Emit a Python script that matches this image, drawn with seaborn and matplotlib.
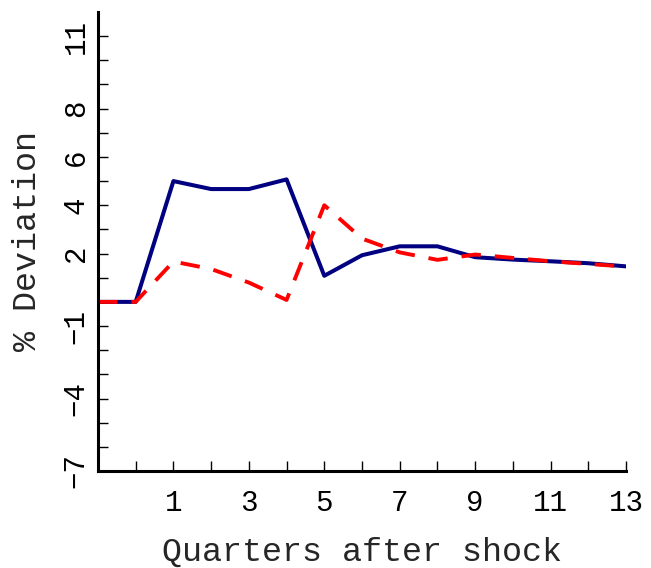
import matplotlib
matplotlib.use("Agg")
import matplotlib.pyplot as plt
import seaborn as sns
import pandas as pd

# Impulse responses (percent deviation from steady state)
quarters = [-1, 0, 1, 2, 3, 4, 5, 6, 7, 8, 9, 10, 11, 12, 13]
series_a = [0.0, 0.0, 5.0, 4.67, 4.67, 5.07, 1.08, 1.93, 2.30, 2.30, 1.85, 1.75, 1.68, 1.60, 1.47]
series_b = [0.0, 0.0, 1.67, 1.36, 0.80, 0.08, 4.00, 2.62, 2.05, 1.74, 1.96, 1.82, 1.68, 1.57, 1.46]

x_ticks = list(range(0, 14))
x_labels = ["1", "3", "5", "7", "9", "11", "13"]
y_ticks = list(range(-7, 12))
y_labels = {-7: "\u22127", -4: "\u22124", -1: "\u22121", 2: "2", 4: "4", 6: "6", 8: "8", 11: "11"}

sns.set_style("white")
plt.rcParams["font.family"] = ["Liberation Mono", "DejaVu Sans Mono"]

fig = plt.figure(figsize=(6.51, 5.68), dpi=100)
ax = fig.add_axes([0.1505, 0.1708, 0.8111, 0.8081])

df = pd.DataFrame({"q": quarters, "a": series_a, "b": series_b})
sns.lineplot(data=df, x="q", y="a", ax=ax, color="#000080", linewidth=2.9)
sns.lineplot(data=df, x="q", y="b", ax=ax, color="#FF0000", linewidth=2.8)
ax.lines[1].set_dashes([5, 3.6])

ax.set_xlim(-1, 13)
ax.set_ylim(-7, 12)

ax.set_xticks(x_ticks)
ax.set_xticklabels([str(t) if str(t) in x_labels else "" for t in x_ticks])
ax.set_yticks(y_ticks)
ax.set_yticklabels([y_labels.get(t, "") for t in y_ticks], rotation=90, va="center")

ax.tick_params(axis="both", which="major", bottom=True, left=True,
               direction="in", length=7, width=1, colors="black",
               labelsize=21, labelcolor="black")
ax.tick_params(axis="x", pad=13)
ax.tick_params(axis="y", pad=6)

for side in ["top", "right"]:
    ax.spines[side].set_visible(False)
for side in ["left", "bottom"]:
    ax.spines[side].set_color("black")
    ax.spines[side].set_linewidth(2.2)

ax.set_xlabel("Quarters after shock", fontsize=24, labelpad=14)
ax.set_ylabel("% Deviation", fontsize=24, va="center")
ax.yaxis.set_label_coords(-0.134, 0.5)

fig.savefig("out.png", dpi=100)
